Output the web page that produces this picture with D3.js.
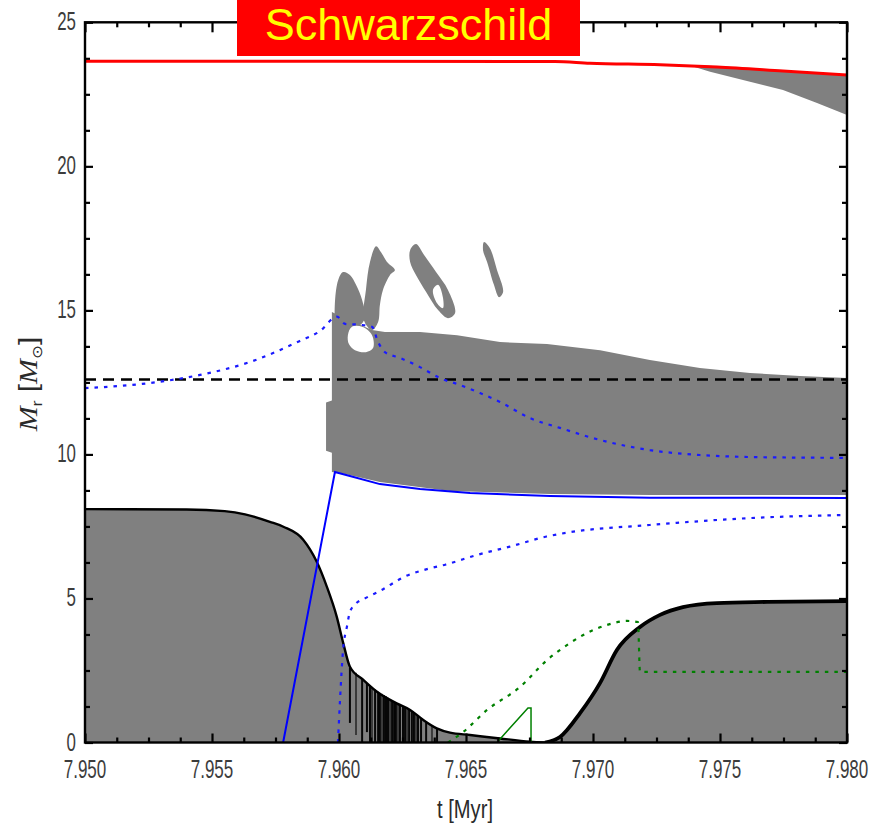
<!DOCTYPE html>
<html>
<head>
<meta charset="utf-8">
<script src="https://cdn.jsdelivr.net/npm/d3@7"></script>
<style>
  body { margin: 0; background: #fff; }
  svg { display: block; }
</style>
</head>
<body>
<svg id="chart" width="870" height="826"></svg>
<script>
// ---- Data (time in Myr, enclosed mass M_r in solar masses) ----
const xTicks = [7.950, 7.955, 7.960, 7.965, 7.970, 7.975, 7.980];
const yTicks = [0, 5, 10, 15, 20, 25];
const xTickLabels = ["7.950", "7.955", "7.960", "7.965", "7.970", "7.975", "7.980"];
const yTickLabels = ["0", "5", "10", "15", "20", "25"];

// total stellar mass
const totalMass = [[7.9500, 23.65], [7.9685, 23.64], [7.96988, 23.58], [7.97264, 23.53],
  [7.97488, 23.45], [7.97748, 23.31], [7.9800, 23.17]];

// convective core boundary (declining, then regrowing)
const coreDecline = [[7.9500, 8.10], [7.9540, 8.09], [7.9555, 8.03], [7.9563, 7.92],
  [7.95728, 7.66], [7.95781, 7.49], [7.95859, 7.04], [7.95912, 6.28], [7.95952, 5.41],
  [7.95991, 4.37], [7.96017, 3.44], [7.96043, 2.63], [7.96096, 2.17], [7.96148, 1.77],
  [7.96227, 1.36], [7.96280, 1.13], [7.96332, 0.78], [7.96385, 0.49], [7.96437, 0.34],
  [7.96516, 0.26], [7.96634, 0.14], [7.96752, 0.03], [7.96811, 0.0]];
const coreRegrow = [[7.96811, 0.0], [7.96870, 0.19], [7.96949, 1.02], [7.97028, 2.07],
  [7.97094, 3.21], [7.97185, 4.01], [7.97264, 4.43], [7.97354, 4.70], [7.97488, 4.84],
  [7.97685, 4.88], [7.9800, 4.91]];

// short convective episodes inside the shrinking core: [t, top, bottom]
const coreSpikes = [[7.96043, 2.60, 0.68], [7.96067, 2.42, 0.26], [7.96091, 2.20, 0.0],
  [7.96110, 2.06, 0.36], [7.96122, 1.98, 0.0], [7.96130, 1.93, 0.0], [7.96142, 1.84, 0.0],
  [7.96154, 1.76, 0.0], [7.96161, 1.72, 0.0], [7.96169, 1.69, 0.0], [7.96177, 1.64, 0.0],
  [7.96185, 1.60, 0.0], [7.96193, 1.55, 0.0], [7.96201, 1.51, 0.0], [7.96209, 1.46, 0.0],
  [7.96217, 1.42, 0.0], [7.96224, 1.38, 0.0], [7.96232, 1.34, 0.0], [7.96240, 1.30, 0.0],
  [7.96252, 1.25, 0.0], [7.96260, 1.20, 0.0], [7.96268, 1.16, 0.0], [7.96276, 1.13, 0.0],
  [7.96287, 1.09, 0.0], [7.96295, 1.04, 0.0], [7.96303, 0.99, 0.0], [7.96311, 0.94, 0.0],
  [7.96323, 0.85, 0.0], [7.96343, 0.71, 0.0], [7.96366, 0.59, 0.0], [7.96386, 0.47, 0.0]];

// intermediate convective zone
const shellZone = [[7.95972, 14.94], [7.96024, 14.73], [7.96130, 14.32], [7.96181, 14.25],
  [7.96319, 14.25], [7.96465, 14.14], [7.96634, 13.90], [7.96819, 13.83], [7.97028, 13.62],
  [7.97224, 13.28], [7.97421, 13.00], [7.97618, 12.83], [7.97815, 12.72], [7.9800, 12.65],
  [7.9800, 8.59], [7.97224, 8.59], [7.96831, 8.63], [7.96437, 8.73], [7.96161, 9.04],
  [7.96024, 9.32], [7.95972, 9.39], [7.95972, 10.06], [7.95949, 10.13], [7.95949, 11.80],
  [7.95972, 11.87]];
const shellHoles = [
  [[7.96035, 14.14], [7.96051, 14.43], [7.96091, 14.43], [7.96130, 14.14], [7.96134, 13.69],
   [7.96106, 13.55], [7.96063, 13.62], [7.96039, 13.83]],
  [[7.96370, 15.71], [7.96390, 15.89], [7.96409, 15.46], [7.96409, 15.08], [7.96386, 15.25]]
];
// detached convective episodes above the shell
const shellPlumes = [
  [[7.95992, 14.32], [7.95992, 15.89], [7.96016, 16.33], [7.96043, 16.23], [7.96067, 15.89],
   [7.96091, 15.36], [7.96102, 14.73], [7.96075, 14.46], [7.96035, 14.60], [7.96012, 14.32]],
  [[7.96098, 14.66], [7.96106, 15.71], [7.96122, 16.68], [7.96146, 17.23], [7.96165, 17.03],
   [7.96189, 16.68], [7.96220, 16.40], [7.96201, 16.23], [7.96173, 15.71], [7.96161, 15.19],
   [7.96154, 14.60], [7.96130, 14.32]],
  [[7.96280, 17.09], [7.96303, 17.30], [7.96335, 16.92], [7.96382, 16.33], [7.96429, 15.71],
   [7.96457, 14.91], [7.96429, 14.73], [7.96390, 15.01], [7.96343, 15.64], [7.96303, 16.23],
   [7.96280, 16.68]],
  [[7.96571, 17.37], [7.96594, 17.16], [7.96622, 16.40], [7.96646, 15.64], [7.96630, 15.46],
   [7.96610, 15.89], [7.96583, 16.68], [7.96567, 17.09]]
];
// surface convective envelope
const surfaceZone = [[7.9740, 23.52], [7.9760, 23.42], [7.9780, 23.30], [7.9800, 23.15],
  [7.9800, 21.78], [7.97882, 22.20], [7.97748, 22.65], [7.97618, 22.94], [7.97461, 23.28],
  [7.9740, 23.45]];

// burning shells
const hShellPeak = [[7.95780, 0.0], [7.95984, 9.39], [7.96043, 9.25], [7.96161, 8.97],
  [7.96319, 8.80], [7.96516, 8.66], [7.96831, 8.56], [7.97224, 8.50], [7.9800, 8.49]];
const hShellUpper = [[7.9500, 12.30], [7.95256, 12.48], [7.95453, 12.76], [7.95650, 13.21],
  [7.95846, 13.94], [7.95925, 14.28], [7.95992, 14.78], [7.96024, 14.53], [7.96083, 14.50],
  [7.96130, 14.43], [7.96154, 13.90], [7.96181, 13.55], [7.96240, 13.35], [7.96319, 13.03],
  [7.96398, 12.65], [7.96476, 12.41], [7.96555, 12.13], [7.96634, 11.82], [7.96752, 11.26],
  [7.96870, 10.92], [7.97028, 10.50], [7.97224, 10.15], [7.97421, 9.98], [7.97618, 9.91],
  [7.9800, 9.88]];
const hShellLower = [[7.95996, 0.0], [7.96004, 1.48], [7.96016, 3.21], [7.96031, 4.01],
  [7.96043, 4.53], [7.96063, 4.79], [7.96106, 5.02], [7.96161, 5.26], [7.96264, 5.78],
  [7.96343, 6.01], [7.96421, 6.18], [7.96543, 6.51], [7.96673, 6.80], [7.96817, 7.15],
  [7.96895, 7.28], [7.97224, 7.55], [7.97618, 7.79], [7.9800, 7.90]];
const heShellDotted = [[7.96429, 0.0], [7.96484, 0.33], [7.96583, 1.13], [7.96713, 1.93],
  [7.96819, 2.86], [7.96909, 3.45], [7.96976, 3.80], [7.97055, 4.08], [7.97134, 4.22],
  [7.97177, 4.18], [7.97185, 2.45], [7.9800, 2.45]];
const heShellPeak = [[7.96622, 0.0], [7.96744, 1.20], [7.96756, 1.20], [7.96756, 0.0]];

const refMass = 12.6;   // reference mass coordinate (dashed)

// ---- Layout ----
const svg = d3.select("#chart");
const plotLeft = 85, plotRight = 847, plotTop = 22.3, plotBottom = 742.5;

const x = d3.scaleLinear().domain([7.950, 7.980]).range([plotLeft, plotRight]);
const y = d3.scaleLinear().domain([0, 25]).range([plotBottom, plotTop]);

const GRAY = "#808080";
svg.append("defs").append("clipPath").attr("id", "plotclip")
  .append("rect").attr("x", plotLeft).attr("y", plotTop)
  .attr("width", plotRight - plotLeft).attr("height", plotBottom - plotTop);
const plot = svg.append("g").attr("clip-path", "url(#plotclip)");

const lineXY = d3.line().x(d => x(d[0])).y(d => y(d[1]));
const smooth = d3.line().x(d => x(d[0])).y(d => y(d[1])).curve(d3.curveMonotoneX);
const blob = d3.line().x(d => x(d[0])).y(d => y(d[1])).curve(d3.curveCatmullRomClosed.alpha(0.5));
const poly = d3.line().x(d => x(d[0])).y(d => y(d[1])).curve(d3.curveLinearClosed);
const areaToZero = d3.area().x(d => x(d[0])).y0(y(0)).y1(d => y(d[1])).curve(d3.curveMonotoneX);

// convective regions
plot.append("path").attr("d", poly(surfaceZone)).attr("fill", GRAY);
plot.append("path").attr("d", poly(shellZone)).attr("fill", GRAY);
shellPlumes.forEach(p => plot.append("path").attr("d", blob(p)).attr("fill", GRAY));
shellHoles.forEach(p => plot.append("path").attr("d", blob(p)).attr("fill", "#fff"));

plot.append("path").attr("d", areaToZero(coreDecline)).attr("fill", GRAY);
plot.append("path").attr("d", areaToZero(coreRegrow)).attr("fill", GRAY);

plot.selectAll("line.spike").data(coreSpikes).join("line")
  .attr("class", "spike")
  .attr("x1", d => x(d[0])).attr("x2", d => x(d[0]))
  .attr("y1", d => y(d[1])).attr("y2", d => y(d[2]))
  .attr("stroke", "#000").attr("stroke-width", 2)
  .attr("opacity", (d, i) => i % 4 === 1 ? 0.55 : 0.95);

plot.append("path").attr("d", smooth(coreDecline)).attr("fill", "none")
  .attr("stroke", "#000").attr("stroke-width", 2.4);
plot.append("path").attr("d", smooth(coreRegrow)).attr("fill", "none")
  .attr("stroke", "#000").attr("stroke-width", 3.8);

// reference mass
plot.append("line").attr("x1", x(7.950)).attr("x2", x(7.980))
  .attr("y1", y(refMass)).attr("y2", y(refMass))
  .attr("stroke", "#000").attr("stroke-width", 2.6).attr("stroke-dasharray", "11,7");

// burning shells
plot.append("path").attr("d", smooth(hShellUpper)).attr("fill", "none")
  .attr("stroke", "#1a1aff").attr("stroke-width", 2.2).attr("stroke-dasharray", "3.5,6");
plot.append("path").attr("d", smooth(hShellLower)).attr("fill", "none")
  .attr("stroke", "#1a1aff").attr("stroke-width", 2.2).attr("stroke-dasharray", "3.5,6");
plot.append("path").attr("d", lineXY(hShellPeak)).attr("fill", "none")
  .attr("stroke", "#0000ff").attr("stroke-width", 2);

plot.append("path").attr("d", smooth(heShellDotted)).attr("fill", "none")
  .attr("stroke", "#008000").attr("stroke-width", 2.2).attr("stroke-dasharray", "3.5,6");
plot.append("path").attr("d", lineXY(heShellPeak)).attr("fill", "none")
  .attr("stroke", "#008000").attr("stroke-width", 1.5);

// total mass
plot.append("path").attr("d", smooth(totalMass)).attr("fill", "none")
  .attr("stroke", "#ff0000").attr("stroke-width", 3);

// ---- Axes (ticks point inward on all four sides) ----
const xMinor = d3.range(0, 25).map(i => 7.950 + i * 0.00125).filter(v => !xTicks.some(t => Math.abs(t - v) < 1e-9));
const yMinor = d3.range(0, 21).map(i => i * 1.25).filter(v => !yTicks.includes(v));

function axisGroup(axis, tx, ty) {
  const g = svg.append("g").attr("transform", `translate(${tx},${ty})`).call(axis);
  g.select(".domain").remove();
  g.selectAll(".tick line").attr("stroke", "#000").attr("stroke-width", 2.2);
  return g;
}
axisGroup(d3.axisBottom(x).tickValues(xTicks).tickSize(-9).tickFormat(""), 0, plotBottom);
axisGroup(d3.axisBottom(x).tickValues(xMinor).tickSize(-5).tickFormat(""), 0, plotBottom);
axisGroup(d3.axisTop(x).tickValues(xTicks).tickSize(-10).tickFormat(""), 0, plotTop);
axisGroup(d3.axisTop(x).tickValues(xMinor).tickSize(-5).tickFormat(""), 0, plotTop);
axisGroup(d3.axisLeft(y).tickValues(yTicks).tickSize(-8).tickFormat(""), plotLeft, 0);
axisGroup(d3.axisLeft(y).tickValues(yMinor).tickSize(-5).tickFormat(""), plotLeft, 0);
axisGroup(d3.axisRight(y).tickValues(yTicks).tickSize(-8).tickFormat(""), plotRight, 0);
axisGroup(d3.axisRight(y).tickValues(yMinor).tickSize(-5).tickFormat(""), plotRight, 0);

svg.append("rect").attr("x", plotLeft).attr("y", plotTop)
  .attr("width", plotRight - plotLeft).attr("height", plotBottom - plotTop)
  .attr("fill", "none").attr("stroke", "#000").attr("stroke-width", 2.4);

// tick labels in a tall, narrow face: each glyph run is squeezed horizontally
const labelFont = "'Liberation Sans', Arial, sans-serif";
const labelWidth = s => s.split("").reduce((w, c) => w + (c === "." ? 5 : 9.4), 0);
function narrowText(sel, anchor) {
  sel.each(function () {
    const t = d3.select(this);
    const natural = this.getComputedTextLength();
    const target = labelWidth(t.text());
    const sx = target / natural;
    const px = +t.attr("data-x"), py = +t.attr("data-y");
    t.attr("transform", `translate(${px},${py}) scale(${sx},1)`).attr("text-anchor", anchor);
  });
}

svg.append("g").selectAll("text").data(xTicks).join("text")
  .attr("data-x", d => x(d)).attr("data-y", 778)
  .attr("font-family", labelFont).attr("font-size", 26).attr("fill", "#3c3c3c")
  .text((d, i) => xTickLabels[i])
  .call(narrowText, "middle");

svg.append("g").selectAll("text").data(yTicks).join("text")
  .attr("data-x", 76).attr("data-y", d => y(d) + 8)
  .attr("font-family", labelFont).attr("font-size", 26).attr("fill", "#3c3c3c")
  .text((d, i) => yTickLabels[i])
  .call(narrowText, "end");

// axis titles
const xTitle = svg.append("text")
  .attr("font-family", labelFont).attr("font-size", 26).attr("fill", "#2a2a2a")
  .text("t [Myr]");
{
  const natural = xTitle.node().getComputedTextLength();
  xTitle.attr("transform", `translate(465,818) scale(${56 / natural},1)`).attr("text-anchor", "middle");
}

const yTitle = svg.append("text")
  .attr("font-family", labelFont).attr("font-size", 25).attr("fill", "#2a2a2a")
  .attr("text-anchor", "middle");
yTitle.append("tspan").attr("font-style", "italic").attr("font-family", "'Liberation Serif', serif").text("M");
yTitle.append("tspan").attr("font-size", 15).attr("dy", 5).text("r");
yTitle.append("tspan").attr("dy", -5).text(" [");
yTitle.append("tspan").attr("font-style", "italic").attr("font-family", "'Liberation Serif', serif").text("M");
yTitle.append("tspan").attr("font-size", 14).attr("dy", 5).text("⊙");
yTitle.append("tspan").attr("dy", -5).text("]");
{
  const natural = yTitle.node().getComputedTextLength();
  yTitle.attr("transform", `translate(37,384) rotate(-90) scale(${95 / natural},1)`);
}

// model label
svg.append("rect").attr("x", 237).attr("y", 0).attr("width", 343).attr("height", 56).attr("fill", "#ff0000");
svg.append("text").attr("x", 408.5).attr("y", 40).attr("text-anchor", "middle")
  .attr("font-family", "'Liberation Sans', Arial, sans-serif").attr("font-size", 45)
  .attr("fill", "#ffff00").text("Schwarzschild");
</script>
</body>
</html>
